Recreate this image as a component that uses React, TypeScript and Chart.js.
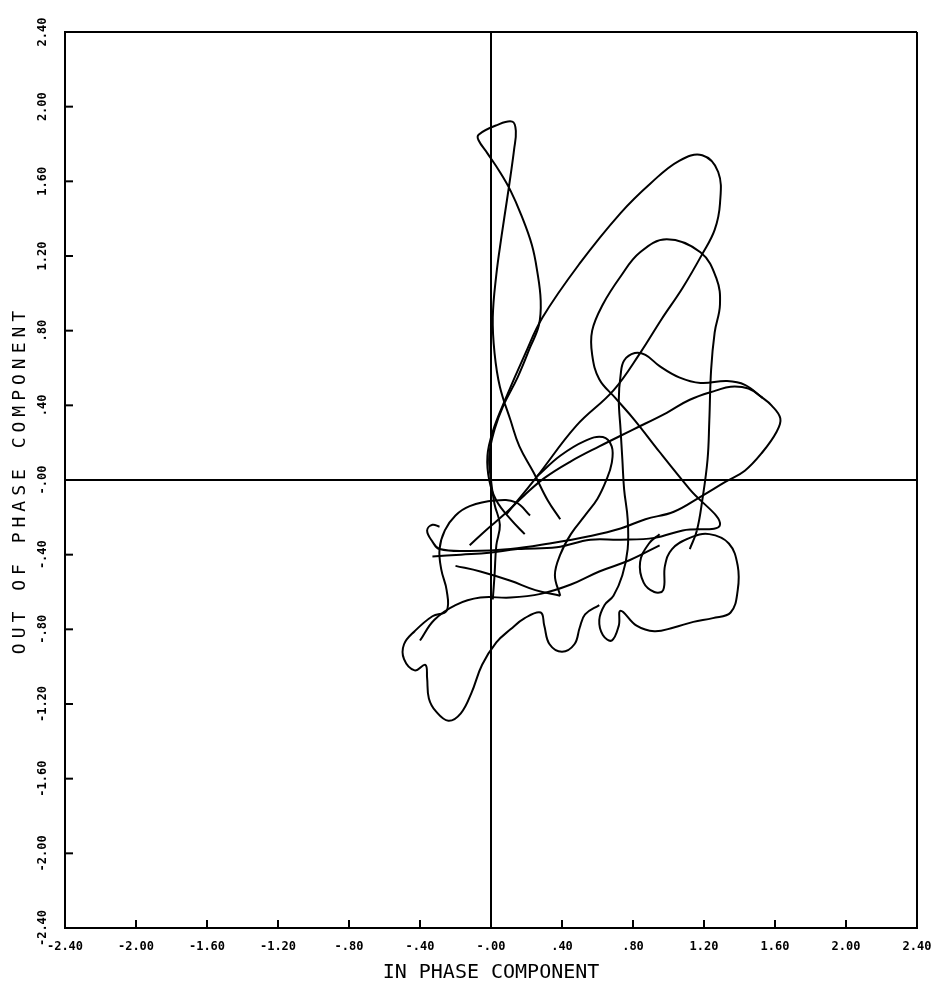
import React, { useEffect, useRef } from "react";
import { Chart, registerables } from "chart.js";

Chart.register(...registerables);

// ---- axes ----
const AXIS_MIN = -2.4;
const AXIS_MAX = 2.4;
const AXIS_STEP = 0.4;
const xTitle = "IN PHASE COMPONENT";
const yTitle = "OUT OF PHASE COMPONENT";

// ---- trace strokes (in-phase, out-of-phase) ----
const bigLoop: [number, number][] = [
  [0.09, -0.18], [0.26, 0.02], [0.48, 0.29], [0.69, 0.48], [0.84, 0.68], [0.96, 0.86],
  [1.08, 1.03], [1.19, 1.21], [1.26, 1.34], [1.29, 1.48], [1.28, 1.65], [1.19, 1.74],
  [1.06, 1.71], [0.9, 1.59], [0.73, 1.43], [0.5, 1.16], [0.29, 0.87], [0.19, 0.67],
  [0.08, 0.43], [0.01, 0.26], [-0.02, 0.13], [-0.01, 0.0], [0.03, -0.11], [0.11, -0.21],
  [0.19, -0.29],
];

const narrowLoop: [number, number][] = [
  [0.39, -0.21], [0.32, -0.11], [0.24, 0.04], [0.16, 0.18], [0.11, 0.32], [0.05, 0.5],
  [0.02, 0.68], [0.01, 0.87], [0.03, 1.1], [0.06, 1.31], [0.09, 1.5], [0.11, 1.63],
  [0.13, 1.77], [0.14, 1.87], [0.12, 1.92], [0.03, 1.9], [-0.07, 1.85], [-0.07, 1.82],
  [-0.02, 1.75], [0.05, 1.65], [0.11, 1.55], [0.17, 1.42], [0.23, 1.26], [0.26, 1.12],
  [0.28, 0.96], [0.27, 0.83], [0.22, 0.71], [0.15, 0.55], [0.07, 0.4], [0.02, 0.27],
  [-0.01, 0.13], [0.0, 0.0], [0.02, -0.13], [0.05, -0.24], [0.03, -0.35], [0.02, -0.51],
  [0.01, -0.64],
];

const innerLoop: [number, number][] = [
  [-0.33, -0.41], [-0.17, -0.4], [-0.01, -0.39], [0.15, -0.37], [0.37, -0.36], [0.56, -0.32],
  [0.73, -0.32], [0.92, -0.31], [1.08, -0.27], [1.29, -0.24], [1.12, -0.05], [0.95, 0.15],
  [0.81, 0.32], [0.7, 0.44], [0.61, 0.54], [0.57, 0.67], [0.57, 0.8], [0.63, 0.94],
  [0.73, 1.09], [0.84, 1.22], [0.99, 1.29], [1.18, 1.22], [1.27, 1.08], [1.29, 0.94],
  [1.26, 0.79], [1.24, 0.59], [1.23, 0.32], [1.22, 0.11], [1.19, -0.11], [1.16, -0.27],
  [1.12, -0.37],
];

const farRightLoop: [number, number][] = [
  [-0.29, -0.25], [-0.33, -0.24], [-0.36, -0.27], [-0.33, -0.33], [-0.29, -0.37], [-0.12, -0.38],
  [0.11, -0.37], [0.33, -0.34], [0.56, -0.3], [0.73, -0.26], [0.87, -0.21], [1.03, -0.17],
  [1.18, -0.09], [1.32, -0.01], [1.43, 0.05], [1.53, 0.15], [1.61, 0.26], [1.63, 0.33],
  [1.58, 0.4], [1.53, 0.44], [1.45, 0.49], [1.35, 0.5], [1.27, 0.48], [1.12, 0.43],
  [0.99, 0.36], [0.8, 0.27], [0.61, 0.18], [0.45, 0.1], [0.3, 0.01], [0.19, -0.08],
  [0.08, -0.18], [-0.03, -0.27], [-0.12, -0.35],
];

const wavyLobe: [number, number][] = [
  [1.53, 0.44], [1.43, 0.51], [1.33, 0.53], [1.18, 0.52], [1.06, 0.55], [0.95, 0.61],
  [0.87, 0.67], [0.81, 0.68], [0.75, 0.64], [0.73, 0.56], [0.72, 0.43], [0.73, 0.27],
  [0.74, 0.11], [0.75, -0.05], [0.77, -0.21], [0.77, -0.37], [0.74, -0.51], [0.69, -0.62],
  [0.64, -0.67], [0.61, -0.75], [0.63, -0.83], [0.68, -0.86], [0.72, -0.78], [0.73, -0.7],
  [0.82, -0.78], [0.92, -0.81], [1.03, -0.79], [1.14, -0.76], [1.25, -0.74], [1.35, -0.71],
  [1.39, -0.59], [1.39, -0.46], [1.34, -0.34], [1.23, -0.29], [1.12, -0.31], [1.02, -0.37],
  [0.98, -0.46], [0.97, -0.59], [0.92, -0.6], [0.86, -0.55], [0.84, -0.44], [0.89, -0.34],
  [0.95, -0.29],
];

const lowerLeftLobe: [number, number][] = [
  [0.22, -0.19], [0.14, -0.12], [0.02, -0.11], [-0.12, -0.14], [-0.2, -0.19], [-0.26, -0.27],
  [-0.29, -0.37], [-0.28, -0.48], [-0.25, -0.59], [-0.25, -0.7], [-0.33, -0.73], [-0.43, -0.81],
  [-0.49, -0.88], [-0.49, -0.96], [-0.43, -1.02], [-0.37, -0.99], [-0.36, -1.06], [-0.35, -1.17],
  [-0.31, -1.24], [-0.24, -1.29], [-0.17, -1.25], [-0.11, -1.14], [-0.05, -0.99], [0.03, -0.87],
  [0.11, -0.8], [0.19, -0.74], [0.28, -0.71], [0.3, -0.78], [0.33, -0.88], [0.4, -0.92],
  [0.47, -0.88], [0.5, -0.79], [0.53, -0.72], [0.61, -0.67],
];

const midBand: [number, number][] = [
  [-0.4, -0.86], [-0.32, -0.75], [-0.2, -0.67], [-0.06, -0.63], [0.11, -0.63], [0.28, -0.61],
  [0.45, -0.56], [0.61, -0.49], [0.78, -0.43], [0.95, -0.35],
];

const lowBand: [number, number][] = [
  [-0.2, -0.46], [-0.06, -0.49], [0.11, -0.54], [0.25, -0.59], [0.39, -0.62],
];

const smallLoop: [number, number][] = [
  [0.26, 0.02], [0.39, 0.13], [0.53, 0.21], [0.63, 0.23], [0.68, 0.18], [0.68, 0.09],
  [0.65, 0.0], [0.6, -0.1], [0.53, -0.19], [0.45, -0.29], [0.39, -0.4], [0.36, -0.51],
  [0.39, -0.62],
];

const strokes = [bigLoop, narrowLoop, innerLoop, farRightLoop, wavyLobe, lowerLeftLobe, midBand, lowBand, smallLoop];

function fmt(v: number): string {
  const r = Math.round(v * 100) / 100;
  if (Math.abs(r) < 1e-9) return "-.00";
  const s = Math.abs(r).toFixed(2);
  const t = Math.abs(r) < 1 ? s.slice(1) : s;
  return (r < 0 ? "-" : "") + t;
}

const TICK_FONT = 'bold 12px "DejaVu Sans Mono"';
const Y_TITLE_FONT = '18px "DejaVu Sans Mono"';

const frameTicks = {
  id: "frameTicks",
  afterDraw(chart: any) {
    const { ctx, chartArea } = chart;
    const { left, top, bottom } = chartArea;
    const xs = chart.scales.x;
    const ys = chart.scales.y;
    ctx.save();
    ctx.strokeStyle = "#000";
    ctx.lineWidth = 2;
    xs.ticks.forEach((t: any) => {
      if (t.value <= AXIS_MIN + 1e-9 || t.value >= AXIS_MAX - 1e-9) return;
      const px = xs.getPixelForValue(t.value);
      ctx.beginPath();
      ctx.moveTo(px, bottom);
      ctx.lineTo(px, bottom - 8);
      ctx.stroke();
    });
    ys.ticks.forEach((t: any) => {
      if (t.value <= AXIS_MIN + 1e-9 || t.value >= AXIS_MAX - 1e-9) return;
      const py = ys.getPixelForValue(t.value);
      ctx.beginPath();
      ctx.moveTo(left, py);
      ctx.lineTo(left + 8, py);
      ctx.stroke();
    });
    ctx.fillStyle = "#000";
    ctx.font = TICK_FONT;
    ctx.textAlign = "center";
    ctx.textBaseline = "middle";
    ys.ticks.forEach((t: any) => {
      const py = ys.getPixelForValue(t.value);
      ctx.save();
      ctx.translate(left - 22, py);
      ctx.rotate(-Math.PI / 2);
      ctx.fillText(fmt(t.value), 0, 0);
      ctx.restore();
    });
    // y-axis title, widely spaced plotter lettering
    ctx.save();
    ctx.font = Y_TITLE_FONT;
    (ctx as any).letterSpacing = "5px";
    ctx.translate(left - 45, (top + bottom) / 2);
    ctx.rotate(-Math.PI / 2);
    ctx.fillText(yTitle, 0, 0);
    ctx.restore();
    ctx.restore();
  },
};

export default function App() {
  const ref = useRef<HTMLCanvasElement | null>(null);
  useEffect(() => {
    if (!ref.current) return;
    const lineColor = (ctx: any) => {
      const v = ctx.tick ? ctx.tick.value : NaN;
      return Math.abs(v) < 1e-9 || Math.abs(Math.abs(v) - AXIS_MAX) < 1e-9 ? "#000" : "rgba(0,0,0,0)";
    };
    const chart = new Chart(ref.current, {
      type: "scatter",
      data: {
        datasets: strokes.map((s) => ({
          data: s.map(([x, y]) => ({ x, y })),
          showLine: true,
          borderColor: "#000",
          backgroundColor: "#000",
          borderWidth: 2,
          pointRadius: 0,
          tension: 0.4,
          fill: false,
        })),
      },
      options: {
        responsive: false,
        animation: false,
        layout: { padding: { top: 24, right: 17, left: 0, bottom: 0 } },
        plugins: { legend: { display: false }, tooltip: { enabled: false } },
        scales: {
          x: {
            type: "linear",
            min: AXIS_MIN,
            max: AXIS_MAX,
            afterFit: (s: any) => {
              s.height = 55;
              s.paddingLeft = 0;
              s.paddingRight = 0;
            },
            ticks: {
              stepSize: AXIS_STEP,
              color: "#000",
              font: { family: "DejaVu Sans Mono", size: 12, weight: "bold" },
              padding: 12,
              maxRotation: 0,
              autoSkip: false,
              callback: (v: any) => fmt(Number(v)),
            },
            grid: { color: lineColor, lineWidth: 2, drawTicks: false },
            border: { display: true, color: "#000", width: 2 },
            title: {
              display: true,
              text: xTitle,
              color: "#000",
              font: { family: "DejaVu Sans Mono", size: 20, lineHeight: 1 },
              padding: { top: 0, bottom: 0 },
            },
          },
          y: {
            type: "linear",
            min: AXIS_MIN,
            max: AXIS_MAX,
            afterFit: (s: any) => {
              s.width = 57;
              s.paddingTop = 0;
              s.paddingBottom = 0;
            },
            ticks: { stepSize: AXIS_STEP, display: false, autoSkip: false },
            grid: { color: lineColor, lineWidth: 2, drawTicks: false },
            border: { display: true, color: "#000", width: 2 },
            title: { display: false },
          },
        },
      },
      plugins: [frameTicks],
    });
    return () => chart.destroy();
  }, []);
  return (
    <div style={{ width: 926, height: 975 }}>
      <canvas ref={ref} width={926} height={975} style={{ display: "block" }} />
    </div>
  );
}
